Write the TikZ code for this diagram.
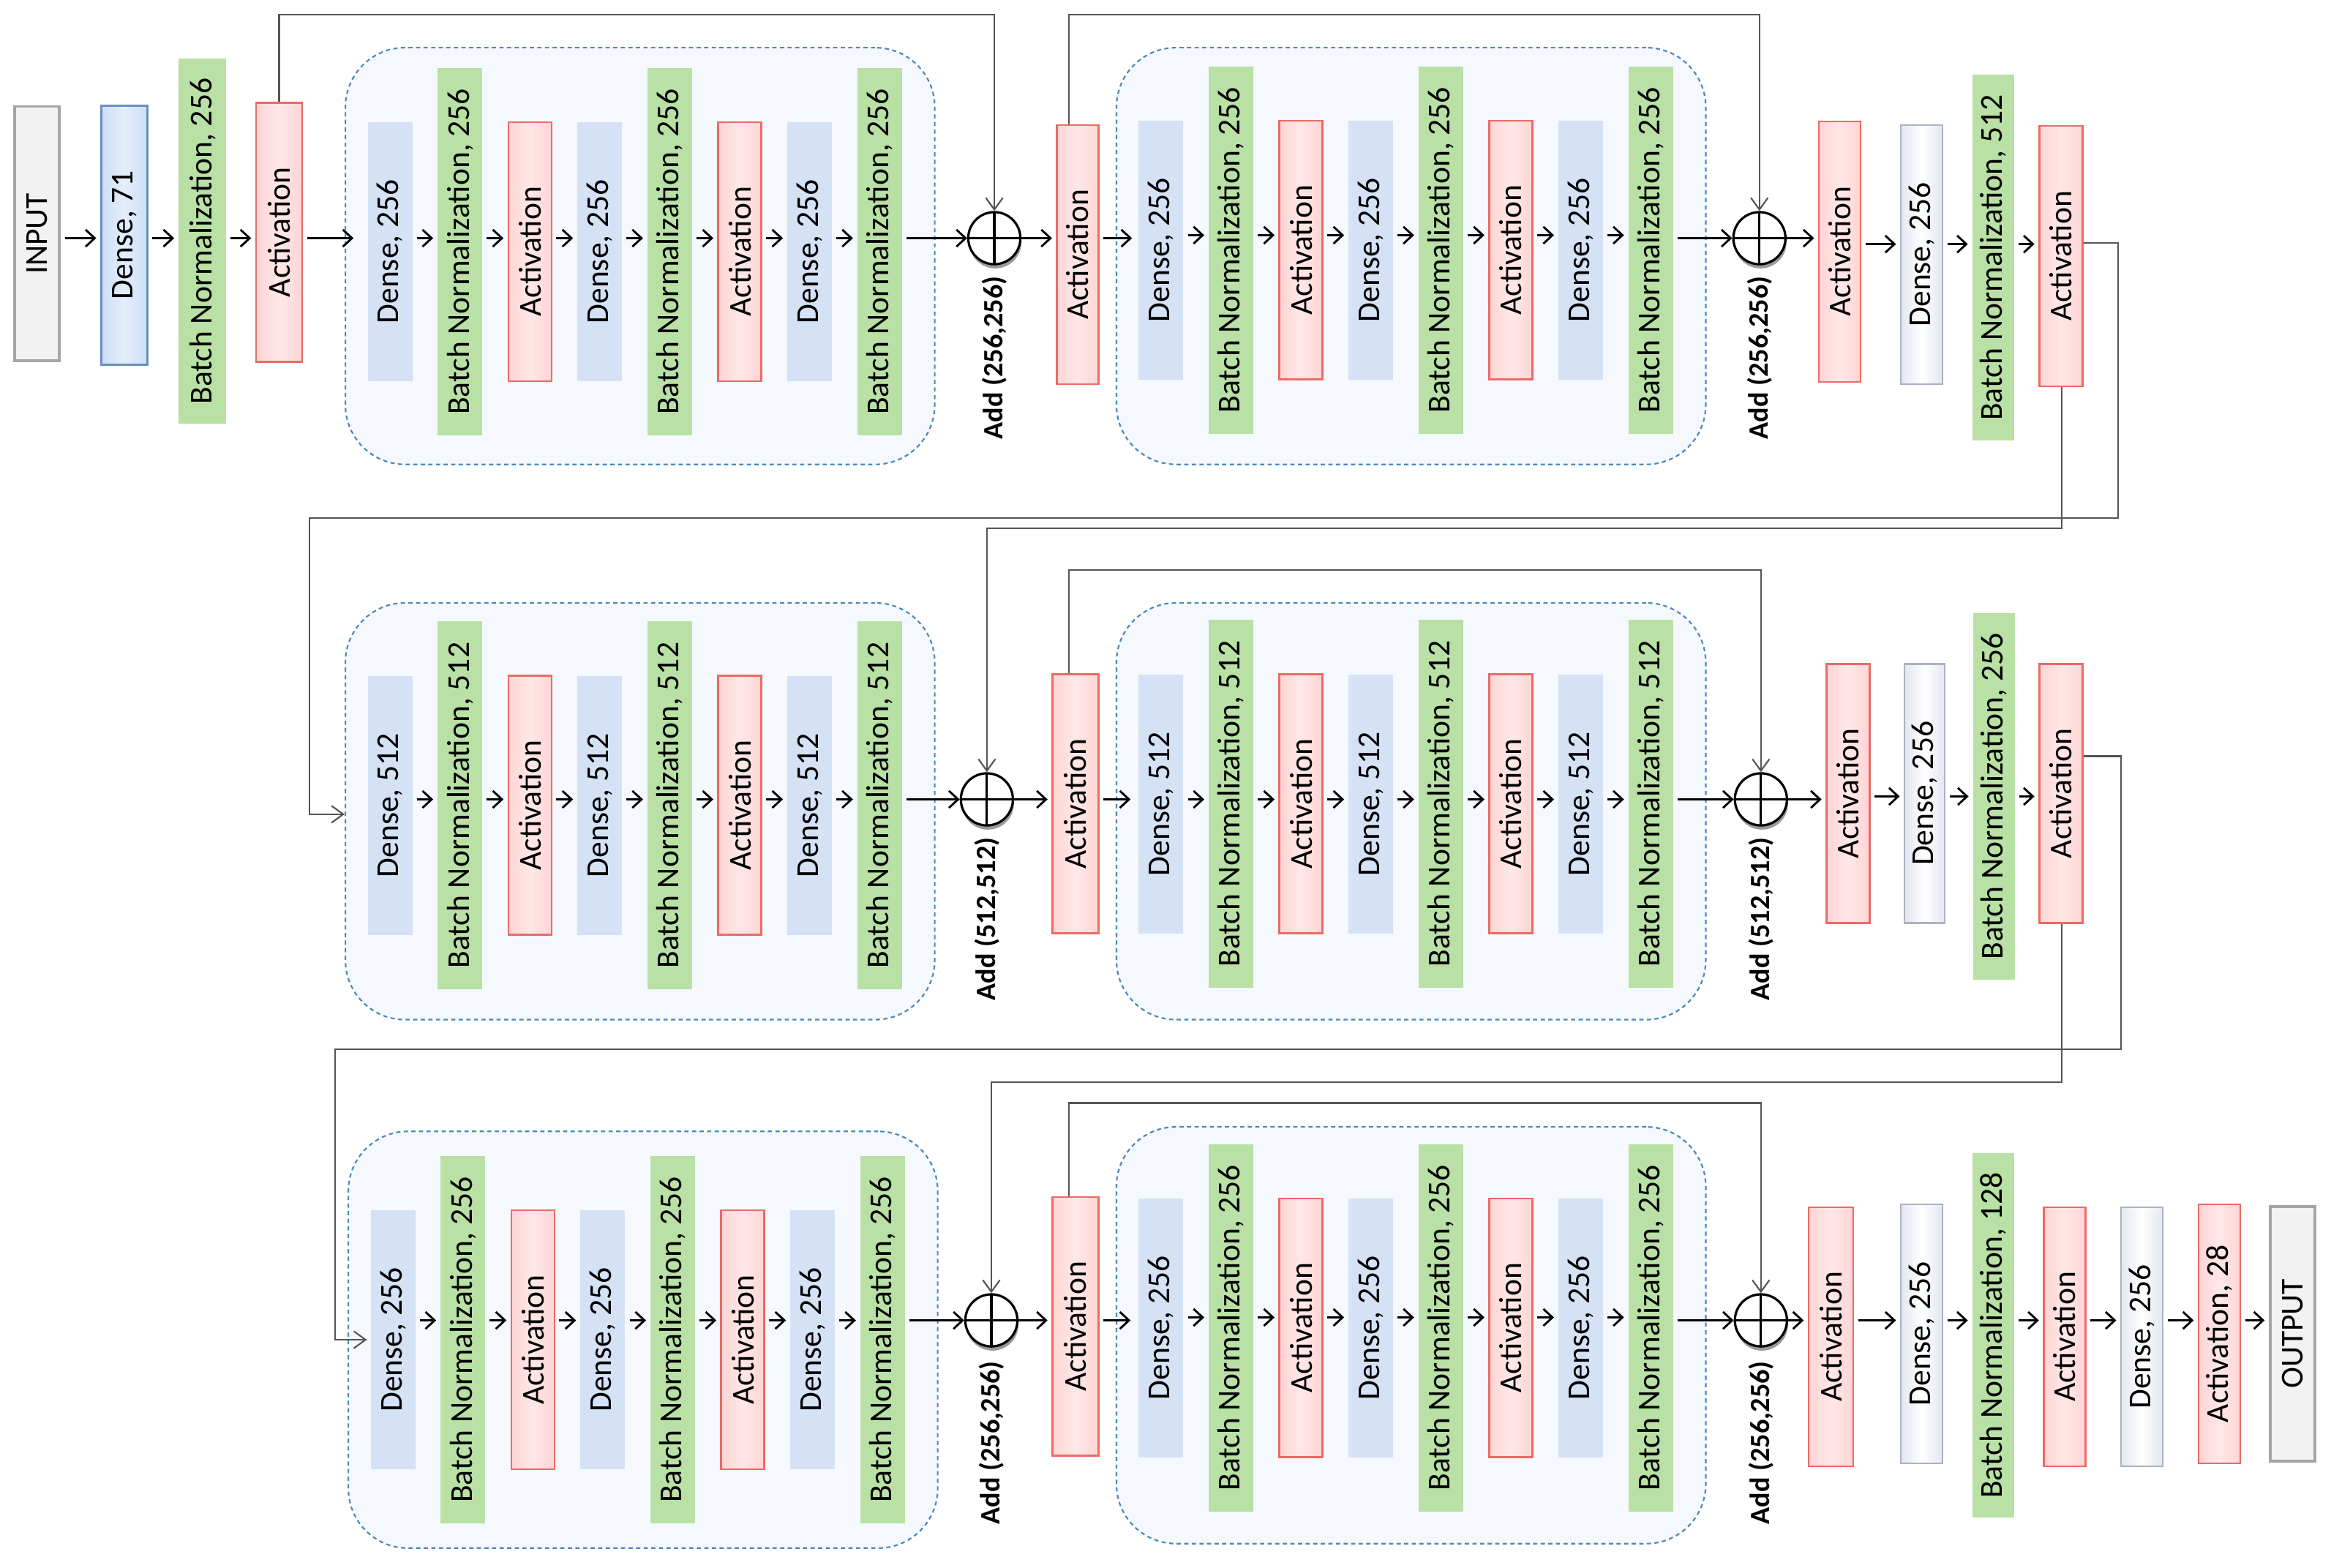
\documentclass[tikz,border=0pt]{standalone}
\usepackage{fontspec}
\setmainfont{Carlito}
\usetikzlibrary{arrows.meta,shadows}

\definecolor{bnfill}{RGB}{185,224,165}
\definecolor{densefill}{RGB}{213,226,245}
\definecolor{actdraw}{RGB}{234,107,102}
\definecolor{actside}{RGB}{255,212,212}
\definecolor{actmid}{RGB}{255,232,232}
\definecolor{wdraw}{RGB}{170,178,196}
\definecolor{wside}{RGB}{226,231,240}
\definecolor{bdraw}{RGB}{108,142,191}
\definecolor{bside}{RGB}{204,222,246}
\definecolor{bmid}{RGB}{228,238,252}
\definecolor{iodraw}{RGB}{165,165,165}
\definecolor{iofill}{RGB}{242,242,242}
\definecolor{blkdraw}{RGB}{74,135,190}
\definecolor{blkfill}{RGB}{245,249,253}
\definecolor{skipgray}{RGB}{85,85,85}

\newcommand{\vtext}[1]{\rotatebox{90}{#1}}

\begin{document}
\begin{tikzpicture}[x=0.02cm, y=-0.02cm,
  every node/.style={inner sep=0pt, font=\fontsize{12.2}{14}\selectfont},
  layer/.style={rectangle, minimum width=0.6cm, minimum height=3.48cm},
  dense/.style={layer, fill=densefill},
  bn/.style={layer, fill=bnfill, minimum height=4.94cm},
  act/.style={layer, draw=actdraw, line width=0.7pt, left color=actside, right color=actside, middle color=actmid, minimum width=0.58cm},
  wdense/.style={layer, draw=wdraw, line width=0.7pt, left color=wside, right color=wside, middle color=white},
  bdense/.style={layer, draw=bdraw, line width=0.8pt, left color=bside, right color=bside, middle color=bmid, minimum width=0.62cm},
  io/.style={layer, draw=iodraw, line width=1.1pt, fill=iofill, minimum height=3.42cm},
  block/.style={draw=blkdraw, fill=blkfill, dash pattern=on 1.6pt off 1.3pt, line width=0.6pt, rounded corners=0.8cm, minimum width=7.92cm, minimum height=5.6cm},
  addop/.style={circle, draw, fill=white, line width=0.9pt, minimum size=0.7cm,
    drop shadow={shadow xshift=0.4pt, shadow yshift=-1.6pt, fill=gray, opacity=0.8},
    path picture={\draw[line width=0.9pt] (path picture bounding box.north) -- (path picture bounding box.south)
      (path picture bounding box.west) -- (path picture bounding box.east);}},
  addlbl/.style={font=\bfseries\fontsize{10.7}{12}\selectfont, rotate=90, anchor=east},
  flow/.style={line width=0.8pt, -{Straight Barb[length=3.5pt,width=6.5pt]}, shorten <=1.5pt, shorten >=1.5pt},
  skip/.style={draw=skipgray, line width=0.6pt, -{Straight Barb[length=4.5pt,width=6.5pt]}}]

\useasboundingbox (0,0) rectangle (1566,1053);

\coordinate (r1) at (0,160);
\coordinate (r2) at (0,537);
\coordinate (r3) at (0,887);

\foreach \nb/\xb/\yb/\yc/\ya/\units in {1/232/169/172/160/256, 2/750/168/172/158/256, 3/232/541/545/537/512,
    4/750/540/545/537/512, 5/234/900/900/887/256, 6/750/892/897/885/256} {
  \node[block] (blk\nb) at (\xb+198,\yc) {};
  \foreach \i in {1,4,7}
    \node[dense] (b\nb n\i) at (\xb+30+47*\i-47,\yb) {\vtext{Dense, \units}};
  \foreach \i in {2,5,8}
    \node[bn] (b\nb n\i) at (\xb+30+47*\i-47,\yb) {\vtext{Batch Normalization, \units}};
  \foreach \i in {3,6}
    \node[act] (b\nb n\i) at (\xb+30+47*\i-47,\yb) {\vtext{Activation}};
  \foreach \i [evaluate=\i as \j using int(\i+1)] in {1,...,7}
    \draw[flow] (b\nb n\i.east |- 0,\ya) -- (b\nb n\j.west |- 0,\ya);
}

\node[io] (in) at (25,157) {\vtext{INPUT}};
\node[bdense] (d71) at (83.5,158) {\vtext{Dense, 71}};
\node[bn, minimum width=0.64cm, minimum height=4.9cm] (bn0) at (136,162) {\vtext{Batch Normalization, 256}};
\node[act, minimum width=0.62cm] (act0) at (187.5,156) {\vtext{Activation}};
\node[addop] (add1) at (668,160) {};
\node[addlbl] (lbl1) at ([yshift=-4pt]add1.south) {Add (256,256)};
\node[act, minimum width=0.56cm] (act1) at (724,171) {\vtext{Activation}};
\node[addop] (add2) at (1182,160) {};
\node[addlbl] (lbl2) at ([yshift=-4pt]add2.south) {Add (256,256)};
\node[act, minimum width=0.56cm, minimum height=3.5cm] (act2) at (1236,169) {\vtext{Activation}};
\node[wdense, minimum width=0.56cm] (den2) at (1291,171) {\vtext{Dense, 256}};
\node[bn, minimum width=0.56cm, minimum height=4.92cm] (bn2) at (1339,173) {\vtext{Batch Normalization, 512}};
\node[act, minimum height=3.5cm] (act3) at (1384.5,172) {\vtext{Activation}};

\node[addop] (add3) at (663,537) {};
\node[addlbl] (lbl3) at ([yshift=-4pt]add3.south) {Add (512,512)};
\node[act, minimum width=0.62cm] (act4) at (722.5,540) {\vtext{Activation}};
\node[addop] (add4) at (1183,537) {};
\node[addlbl] (lbl4) at ([yshift=-4pt]add4.south) {Add (512,512)};
\node[act] (act5) at (1241.5,533) {\vtext{Activation}};
\node[wdense, minimum width=0.54cm] (den5) at (1293,533) {\vtext{Dense, 256}};
\node[bn, minimum width=0.56cm, minimum height=4.92cm] (bn5) at (1339.5,535) {\vtext{Batch Normalization, 256}};
\node[act] (act6) at (1384.5,533) {\vtext{Activation}};

\node[addop] (add5) at (666,887) {};
\node[addlbl] (lbl5) at ([yshift=-5pt]add5.south) {Add (256,256)};
\node[act, minimum width=0.62cm] (act7) at (722.5,891) {\vtext{Activation}};
\node[addop] (add6) at (1183,887) {};
\node[addlbl] (lbl6) at ([yshift=-5pt]add6.south) {Add (256,256)};
\node[act, minimum width=0.6cm] (act8) at (1230,898) {\vtext{Activation}};
\node[wdense, minimum width=0.56cm] (den8) at (1291,896) {\vtext{Dense, 256}};
\node[bn, minimum width=0.56cm, minimum height=4.9cm] (bn8) at (1339,897) {\vtext{Batch Normalization, 128}};
\node[act, minimum width=0.56cm] (act9) at (1387,898) {\vtext{Activation}};
\node[wdense, minimum width=0.56cm] (den9) at (1439,898) {\vtext{Dense, 256}};
\node[act, minimum width=0.56cm] (act10) at (1491,896) {\vtext{Activation, 28}};
\node[io] (out) at (1540,896) {\vtext{OUTPUT}};

\draw[flow] (in.east |- r1) -- (d71.west |- r1);
\draw[flow] (d71.east |- r1) -- (bn0.west |- r1);
\draw[flow] (bn0.east |- r1) -- (act0.west |- r1);
\draw[flow, shorten >=-0.12cm] (act0.east |- r1) -- (blk1.west |- r1);
\draw[flow, shorten >=0pt] (b1n8.east |- r1) -- (add1.west);
\draw[flow, shorten <=0pt] (add1.east) -- (act1.west |- add1);
\draw[flow, shorten >=-0.22cm] (act1.east |- r1) -- (blk2.west |- r1);
\draw[flow, shorten >=0pt] (b2n8.east |- r1) -- (add2.west);
\draw[flow, shorten <=0pt] (add2.east) -- (act2.west |- add2);
\draw[flow] (act2.east |- 0,164) -- (den2.west |- 0,164);
\draw[flow] (den2.east |- 0,164) -- (bn2.west |- 0,164);
\draw[flow] (bn2.east |- 0,164) -- (act3.west |- 0,164);

\draw[flow, shorten >=0pt] (b3n8.east |- r2) -- (add3.west);
\draw[flow, shorten <=0pt] (add3.east) -- (act4.west |- add3);
\draw[flow, shorten >=-0.2cm] (act4.east |- r2) -- (blk4.west |- r2);
\draw[flow, shorten >=0pt] (b4n8.east |- r2) -- (add4.west);
\draw[flow, shorten <=0pt] (add4.east) -- (act5.west |- add4);
\draw[flow] (act5.east |- 0,535) -- (den5.west |- 0,535);
\draw[flow] (den5.east |- 0,535) -- (bn5.west |- 0,535);
\draw[flow] (bn5.east |- 0,535) -- (act6.west |- 0,535);

\draw[flow, shorten >=0pt] (b5n8.east |- r3) -- (add5.west);
\draw[flow, shorten <=0pt] (add5.east) -- (act7.west |- add5);
\draw[flow, shorten >=-0.2cm] (act7.east |- r3) -- (blk6.west |- r3);
\draw[flow, shorten >=0pt] (b6n8.east |- r3) -- (add6.west);
\draw[flow, shorten <=0pt] (add6.east) -- (act8.west |- add6);
\draw[flow] (act8.east |- r3) -- (den8.west |- r3);
\draw[flow] (den8.east |- r3) -- (bn8.west |- r3);
\draw[flow] (bn8.east |- r3) -- (act9.west |- r3);
\draw[flow] (act9.east |- r3) -- (den9.west |- r3);
\draw[flow] (den9.east |- r3) -- (act10.west |- r3);
\draw[flow] (act10.east |- r3) -- (out.west |- r3);

\draw[skip] (act0.north) -- (act0.north |- 0,10) -| (add1.north);
\draw[skip] (act1.north -| 718,0) -- (718,10) -| (add2.north);
\draw[skip] (act4.north -| 718,0) -- (718,383) -| (add4.north);
\draw[skip] (act7.north -| 718,0) -- (718,741) -| (add6.north);

\draw[skip] (act3.east |- 0,163) -| (1423,348) -| (208,547) -- (blk3.west |- 0,547);
\draw[skip] (act3.south -| 1385,0) -- (1385,355) -| (add3.north);
\draw[skip, shorten >=-0.26cm] (act6.east |- 0,508) -| (1425,705) -| (225,900) -- (blk5.west |- 0,900);
\draw[skip] (act6.south -| 1385,0) -- (1385,727) -| (add5.north);
\end{tikzpicture}
\end{document}
